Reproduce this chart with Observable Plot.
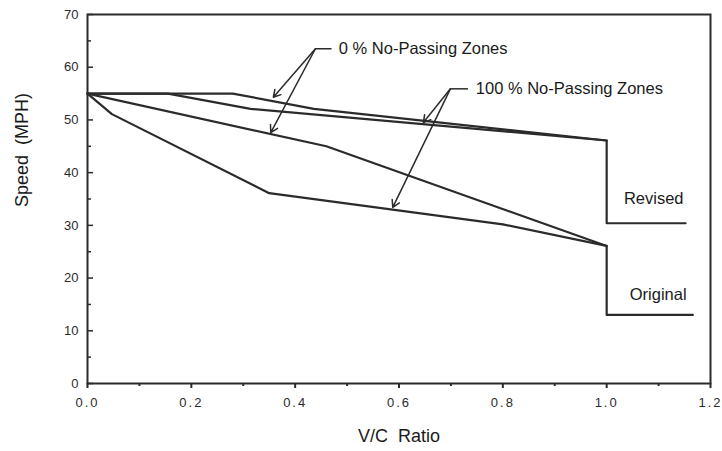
<!DOCTYPE html>
<html><head><meta charset="utf-8">
<script src="https://cdn.jsdelivr.net/npm/d3@7"></script>
<script src="https://cdn.jsdelivr.net/npm/@observablehq/plot@0.6"></script>
<style>
body{margin:0;background:#fff;}
#chart svg g[aria-label="x-axis tick label"] text{letter-spacing:2px}
</style></head><body><div id="chart"></div>
<script>
// Tick values
const xTicks = [0, 0.2, 0.4, 0.6, 0.8, 1.0, 1.2];
const xMinorTicks = [0.1, 0.3, 0.5, 0.7, 0.9, 1.1];
const yTicks = [0, 10, 20, 30, 40, 50, 60, 70];
const yMinorTicks = [5, 15, 25, 35, 45, 55, 65];

// Revised, 0 % no-passing zones (incl. drop at capacity)
const revised0X = [0, 0.28, 0.436, 1.0, 1.0, 1.152];
const revised0Y = [55, 55, 52.1, 46.1, 30.4, 30.4];
// Revised, 100 % no-passing zones
const revised100X = [0, 0.155, 0.314, 1.0];
const revised100Y = [55, 55, 52.1, 46.1];
// Original, 0 % no-passing zones (incl. drop at capacity)
const original0X = [0, 0.46, 1.0, 1.0, 1.166];
const original0Y = [55, 45, 26.1, 13.0, 13.0];
// Original, 100 % no-passing zones
const original100X = [0, 0.047, 0.35, 0.8, 1.0];
const original100Y = [55, 51.1, 36.1, 30.2, 26.1];

// Annotations
const annoText = ["0 % No-Passing Zones", "100 % No-Passing Zones"];
const annoTextX = [0.484, 0.748];
const annoY = [63.5, 55.9];
const stubX1 = [0.439, 0.699];
const stubX2 = [0.470, 0.733];
const arrowTipX = [0.358, 0.353, 0.647, 0.588];
const arrowTipY = [54.3, 47.6, 49.5, 33.4];
const arrowFrom = [0, 0, 1, 1];

const sideText = ["Revised", "Original"];
const sideTextX = [1.148, 1.154];
const sideTextY = [35.1, 16.9];

function series(name, xs, ys) { return xs.map((x, i) => ({series: name, x, y: ys[i]})); }
const rows = [
  ...series("rev0", revised0X, revised0Y),
  ...series("rev100", revised100X, revised100Y),
  ...series("orig0", original0X, original0Y),
  ...series("orig100", original100X, original100Y)
];
const stubs = annoText.map((t, i) => ({x1: stubX1[i], x2: stubX2[i], y: annoY[i]}));
const arrows = arrowTipX.map((x, i) => ({x1: stubX1[arrowFrom[i]], y1: annoY[arrowFrom[i]], x2: x, y2: arrowTipY[i]}));
const annos = annoText.map((t, i) => ({t, x: annoTextX[i], y: annoY[i]}));
const sides = sideText.map((t, i) => ({t, x: sideTextX[i], y: sideTextY[i]}));

const ink = "#2b2b2b";
const chart = Plot.plot({
  width: 722, height: 451,
  marginLeft: 87, marginRight: 12, marginTop: 14, marginBottom: 68,
  style: {fontFamily: "'Liberation Sans', Arial, sans-serif", fontSize: "13px", color: ink, background: "#fff"},
  x: {domain: [0, 1.2]},
  y: {domain: [0, 70]},
  marks: [
    Plot.axisX(xTicks, {tickSize: 5, tickPadding: 9, tickFormat: d3.format(".1f"), strokeWidth: 2, fontSize: 13}),
    Plot.axisX(xMinorTicks, {tickSize: 3, tickFormat: () => "", strokeWidth: 2}),
    Plot.axisY(yTicks, {tickSize: 6, insetLeft: 6, tickPadding: 9, strokeWidth: 1.5, fontSize: 13}),
    Plot.axisY(yMinorTicks, {tickSize: 4, insetLeft: 4, tickFormat: () => "", strokeWidth: 1.5}),
    Plot.frame({stroke: ink, strokeWidth: 2}),
    Plot.line(rows, {x: "x", y: "y", z: "series", stroke: ink, strokeWidth: 2.2}),
    Plot.link(stubs, {x1: "x1", x2: "x2", y1: "y", y2: "y", stroke: ink, strokeWidth: 1.5}),
    Plot.arrow(arrows, {x1: "x1", y1: "y1", x2: "x2", y2: "y2", stroke: ink, strokeWidth: 1.5, headLength: 8}),
    Plot.text(annos, {x: "x", y: "y", text: "t", textAnchor: "start", fontSize: 16.5, fill: "#1a1a1a"}),
    Plot.text(sides, {x: "x", y: "y", text: "t", textAnchor: "end", fontSize: 16.5, fill: "#1a1a1a"}),
    Plot.text(["Speed\u00a0 (MPH)"], {frameAnchor: "left", dx: -65, dy: 8, rotate: -90, fontSize: 18, fill: "#1a1a1a"}),
    Plot.text(["V/C\u00a0 Ratio"], {frameAnchor: "bottom", dy: 58, fontSize: 18, fill: "#1a1a1a"})
  ]
});
document.getElementById("chart").appendChild(chart);
</script></body></html>
